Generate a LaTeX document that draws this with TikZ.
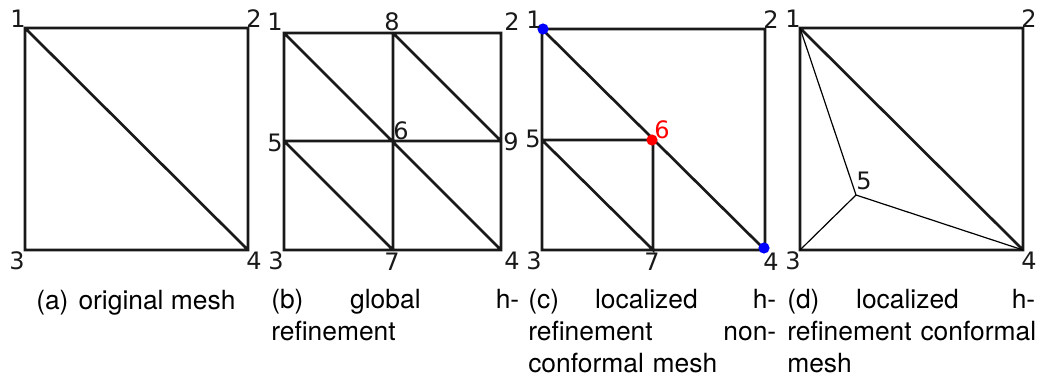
\documentclass[tikz,border=0pt]{standalone}
\usepackage{fontspec}
\setmainfont{TeX Gyre Heros}
\newfontfamily\numfont{DejaVu Sans}
\begin{document}
\begin{tikzpicture}[x=0.75pt,y=-0.75pt,
  mesh/.style={line width=2pt,draw=black!90,line join=miter},
  thinmesh/.style={line width=0.9pt,draw=black},
  num/.style={inner sep=0pt,font=\numfont\fontsize{18}{18}\selectfont,text=black!90},
  redn/.style={num,text=red},
  capt/.style={inner sep=0pt,anchor=base west,align=left,font=\fontsize{19.8}{24}\selectfont},
  dot/.style={circle,inner sep=0pt,minimum size=8.4pt,fill=#1}]
\useasboundingbox (0,0) rectangle (1040,378);
% panel a
\coordinate (a1) at (25,28); \coordinate (a2) at (248,28);
\coordinate (a3) at (25,250); \coordinate (a4) at (248,250);
\draw[mesh] (a1) -- (a2) -- (a4) -- (a3) -- cycle (a1) -- (a4);
\node[num] (al1) at (18,19) {1}; \node[num] (al2) at (254,19) {2};
\node[num] (al3) at (17,261) {3}; \node[num] (al4) at (254,261) {4};
\node[capt] (capa) at (36,309) {(a)\hspace{7.5pt}original mesh};
% panel b
\coordinate (b1) at (284,33); \coordinate (b8) at (393,33); \coordinate (b2) at (501,33);
\coordinate (b5) at (284,141); \coordinate (b6) at (393,141); \coordinate (b9) at (501,141);
\coordinate (b3) at (284,250); \coordinate (b7) at (393,250); \coordinate (b4) at (501,250);
\draw[mesh] (b1) -- (b2) -- (b4) -- (b3) -- cycle (b1) -- (b4)
  (b8) -- (b7) (b5) -- (b9) (b8) -- (b9) (b5) -- (b7);
\node[num] (bl1) at (275,22) {1}; \node[num] (bl2) at (512,22) {2};
\node[num] (bl8) at (392,22) {8}; \node[num] (bl6) at (401,131) {6};
\node[num] (bl5) at (275,143) {5}; \node[num] (bl9) at (511,142) {9};
\node[num] (bl3) at (276,261) {3}; \node[num] (bl7) at (392,262) {7};
\node[num] (bl4) at (512,261) {4};
\node[capt,text width=186pt,anchor=north west] (capb) at (271,288.5) {(b)\hspace{35pt}global\hfill h-\\refinement};
% panel c
\coordinate (c1) at (542,29); \coordinate (c2) at (765,29);
\coordinate (c5) at (542,140); \coordinate (c6) at (653,140);
\coordinate (c3) at (542,250); \coordinate (c7) at (653,250); \coordinate (c4) at (765,250);
\draw[mesh] (c1) -- (c2) -- (c4) -- (c3) -- cycle (c1) -- (c4)
  (c5) -- (c6) -- (c7) -- (c5);
\node[dot=blue] (cd1) at (543,29) {}; \node[dot=blue] (cd4) at (764,248) {};
\node[dot=red] (cd6) at (652,140) {};
\node[num] (cl1) at (534,20) {1}; \node[num] (cl2) at (771,20) {2};
\node[num] (cl5) at (533,139) {5}; \node[redn] (cl6) at (662,130) {6};
\node[num] (cl3) at (534,261) {3}; \node[num] (cl7) at (652,262) {7};
\node[num] (cl4) at (771,262) {4};
\node[capt,text width=186pt,anchor=north west] (capc) at (528,288.5) {(c)\hspace{27pt}localized\hfill h-\\refinement\hfill non-\\conformal mesh};
% panel d
\coordinate (d1) at (800,28); \coordinate (d2) at (1023,28);
\coordinate (d3) at (800,250); \coordinate (d4) at (1023,250);
\coordinate (d5) at (856,195);
\draw[mesh] (d1) -- (d2) -- (d4) -- (d3) -- cycle (d1) -- (d4);
\draw[thinmesh] (d1) -- (d5) (d3) -- (d5) (d4) -- (d5);
\node[num] (dl1) at (793,19) {1}; \node[num] (dl2) at (1029,19) {2};
\node[num] (dl5) at (864,181) {5};
\node[num] (dl3) at (793,261) {3}; \node[num] (dl4) at (1029,261) {4};
\node[capt,text width=186pt,anchor=north west] (capd) at (787,288.5) {(d)\hspace{27.5pt}localized\hfill h-\\\mbox{refinement conformal}\\mesh};
\end{tikzpicture}
\end{document}
